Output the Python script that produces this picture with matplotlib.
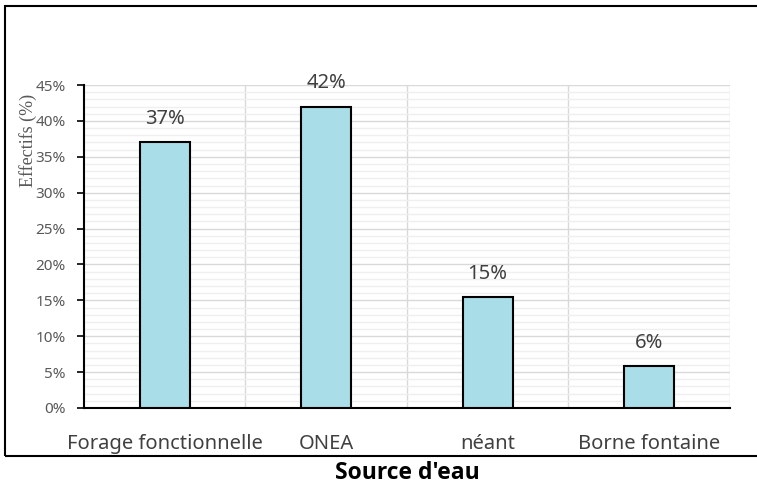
import numpy as np
import matplotlib.pyplot as plt
from matplotlib.patches import Rectangle
from matplotlib.ticker import MultipleLocator, PercentFormatter

categories = ['Forage fonctionnelle', 'ONEA', 'néant', 'Borne fontaine']
values = [37, 42, 15.4, 5.8]
labels = ['37%', '42%', '15%', '6%']

plt.rcParams['font.family'] = ['Noto Sans', 'DejaVu Sans']

fig = plt.figure(figsize=(7.57, 4.86), dpi=100)
ax = fig.add_axes([0.111, 0.1605, 0.853, 0.6645])

# outer frame of the chart area
fig.patches.append(Rectangle((5 / 757, 1 - 456 / 486), 1.0, 450 / 486,
                             transform=fig.transFigure, fill=False,
                             edgecolor='black', lw=1.5, clip_on=False))

x = np.arange(len(categories))
ax.bar(x, values, width=0.31, color='#a9dde7', edgecolor='black', lw=1.5, zorder=3)

for xi, v, lab in zip(x, values, labels):
    ax.text(xi, v + 1.9, lab, ha='center', va='bottom', fontsize=14.5, color='#404040')

ax.set_xlim(-0.5, len(categories) - 0.5)
ax.set_ylim(0, 45)
ax.yaxis.set_major_locator(MultipleLocator(5))
ax.yaxis.set_minor_locator(MultipleLocator(1))
ax.yaxis.set_major_formatter(PercentFormatter(decimals=0))
ax.grid(axis='y', which='major', color='#d9d9d9', lw=1, zorder=0)
ax.grid(axis='y', which='minor', color='#efefef', lw=1, zorder=0)
for b in np.arange(0.5, len(categories), 1):
    ax.axvline(b, color='#d9d9d9', lw=1, zorder=0)

ax.set_xticks(x)
ax.set_xticklabels(categories, fontsize=14.5, color='#404040')
ax.tick_params(axis='x', direction='in', length=5, width=1.2, pad=19)
ax.tick_params(axis='y', which='major', direction='out', length=5, width=1.2,
               labelsize=11, labelcolor='#595959', pad=8)
ax.tick_params(axis='y', which='minor', length=0)

for s in ['top', 'right']:
    ax.spines[s].set_visible(False)
ax.spines['left'].set_linewidth(1.5)
ax.spines['bottom'].set_linewidth(1.5)

ax.set_xlabel("Source d'eau", fontsize=16.5, fontweight='bold', labelpad=5,
              family=['Open Sans', 'DejaVu Sans'])
fig.text(28 / 757, 1 - 140 / 486, 'Effectifs (%)', rotation=90, ha='center', va='center',
         fontsize=13, family=['Liberation Serif'], color='#595959')

fig.savefig('out.png', dpi=100)
